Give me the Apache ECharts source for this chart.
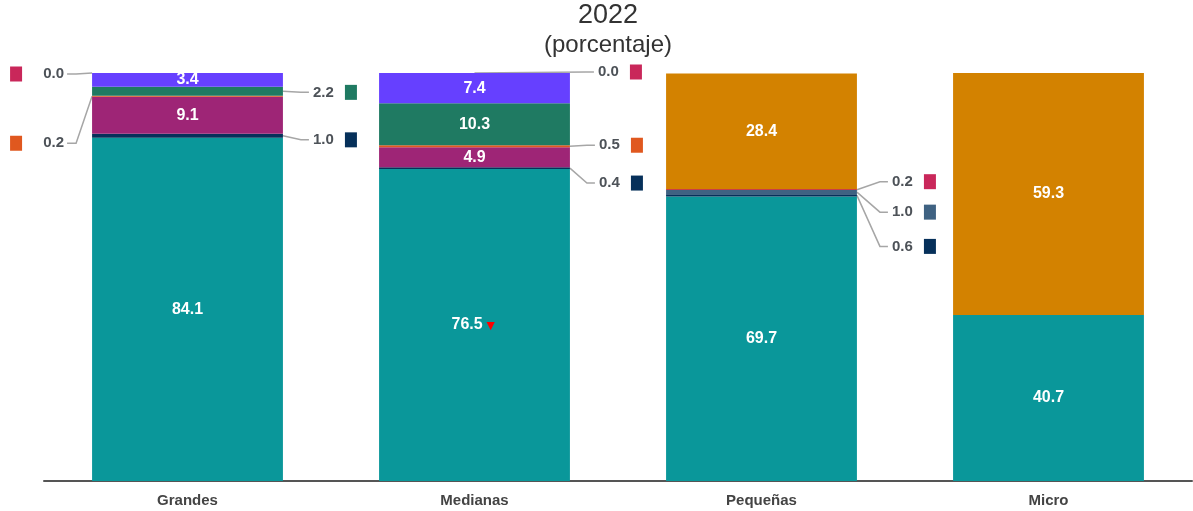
<!DOCTYPE html>
<html>
<head>
<meta charset="utf-8">
<script src="https://cdn.jsdelivr.net/npm/echarts@6/dist/echarts.min.js"></script>
<style>
  html, body { margin: 0; padding: 0; background: #fff; }
  #chart { width: 1193px; height: 511px; }
</style>
</head>
<body>
<div id="chart"></div>
<script>
// datos (porcentaje), de abajo hacia arriba en cada barra
var categories = ['Grandes', 'Medianas', 'Pequeñas', 'Micro'];
var teal      = [84.1, 76.5, 69.7, 40.7];
var navy      = [1.0, 0.4, 0.6, null];
var slate     = [null, null, 1.0, null];
var magenta   = [9.1, 4.9, null, null];
var orangeRed = [0.2, 0.5, null, null];
var green     = [2.2, 10.3, null, null];
var violet    = [3.4, 7.4, null, null];
var crimson   = [0.0, 0.0, 0.2, null];
var orange    = [null, null, 28.4, 59.3];
var downMark  = [false, true, false, false]; // triangulo rojo

var FONT = 'Liberation Sans, Arial, sans-serif';

var stackOrder = [
  { key: 'teal', data: teal, color: '#0a979a' },
  { key: 'navy', data: navy, color: '#06305a' },
  { key: 'slate', data: slate, color: '#3f6282' },
  { key: 'magenta', data: magenta, color: '#9e2576' },
  { key: 'orangeRed', data: orangeRed, color: '#e0581f' },
  { key: 'green', data: green, color: '#1f7a62' },
  { key: 'violet', data: violet, color: '#6640ff' },
  { key: 'crimson', data: crimson, color: '#c9275a' },
  { key: 'orange', data: orange, color: '#d38200' }
];

// etiquetas externas con linea guia
var callouts = [
  { key: 'crimson', cat: 0, side: 'left', dy: 1 },
  { key: 'orangeRed', cat: 0, side: 'left', dy: 47 },
  { key: 'green', cat: 0, side: 'right', dy: 1, gap: 30 },
  { key: 'navy', cat: 0, side: 'right', dy: 4, gap: 30 },
  { key: 'crimson', cat: 1, side: 'right', dy: -1, gap: 28, fromTop: true },
  { key: 'orangeRed', cat: 1, side: 'right', dy: -1, gap: 29 },
  { key: 'navy', cat: 1, side: 'right', dy: 15, gap: 29 },
  { key: 'crimson', cat: 2, side: 'right', dy: -8, gap: 35 },
  { key: 'slate', cat: 2, side: 'right', dy: 20, gap: 35 },
  { key: 'navy', cat: 2, side: 'right', dy: 51, gap: 35 }
];

// limites de cada segmento apilado
var bounds = {};
categories.forEach(function (c, i) {
  var acc = 0;
  stackOrder.forEach(function (s) {
    var v = s.data[i];
    if (v == null) return;
    bounds[s.key + '_' + i] = [acc, acc + v, v, s.color];
    acc += v;
  });
});

var BAR_RATIO = 0.665;

var series = stackOrder.map(function (s) {
  return {
    name: s.key,
    type: 'bar',
    stack: 'total',
    data: s.data,
    barWidth: '66.5%',
    barMinHeight: s.key === 'crimson' ? 1 : 0,
    itemStyle: { color: s.color },
    label: {
      show: true,
      position: 'inside',
      color: '#fff',
      fontWeight: 'bold',
      fontSize: 16,
      fontFamily: FONT,
      formatter: function (p) {
        if (p.value == null || p.value < 3) return '';
        var t = p.value.toFixed(1);
        if (s.key === 'teal' && downMark[p.dataIndex]) t += '{t|▼}';
        return t;
      },
      rich: { t: { color: '#ff0000', fontSize: 14, padding: [2, 0, 0, 1] } }
    },
    emphasis: { disabled: true },
    animation: false
  };
});

series.push({
  type: 'custom',
  silent: true,
  animation: false,
  data: callouts.map(function (c) {
    var b = bounds[c.key + '_' + c.cat];
    return [c.cat, b[0], b[1]];
  }),
  encode: { x: 0, y: [1, 2] },
  renderItem: function (params, api) {
    var c = callouts[params.dataIndex];
    var b = bounds[c.key + '_' + c.cat];
    var cat = api.value(0);
    var mid = api.coord([cat, (b[0] + b[1]) / 2]);
    var top = api.coord([cat, b[1]]);
    var half = api.size([1, 0])[0] * BAR_RATIO / 2;
    var segY = mid[1];
    var labelY = segY + c.dy;
    var pts, textX, align, sqX;
    if (c.side === 'left') {
      var barLeft = mid[0] - half;
      textX = barLeft - 28;
      align = 'right';
      pts = [[barLeft, segY], [textX + 12, labelY], [textX + 3, labelY]];
      sqX = textX - 54;
    } else {
      var barRight = mid[0] + half;
      textX = barRight + c.gap;
      align = 'left';
      var start = c.fromTop ? [mid[0], top[1]] : [barRight, segY];
      pts = [start, [textX - 12, labelY], [textX - 4, labelY]];
      sqX = textX + 32;
    }
    return {
      type: 'group',
      children: [
        { type: 'polyline', shape: { points: pts },
          style: { stroke: '#a6a6a6', lineWidth: 1.5, fill: null } },
        { type: 'text',
          style: { text: b[2].toFixed(1), x: textX, y: labelY, align: align,
                   verticalAlign: 'middle', fill: '#4d5258',
                   font: 'bold 15px ' + FONT } },
        { type: 'rect', shape: { x: sqX, y: labelY - 7.5, width: 12, height: 15 },
          style: { fill: b[3] } }
      ]
    };
  }
});

var chart = echarts.init(document.getElementById('chart'));
chart.setOption({
  backgroundColor: '#fff',
  animation: false,
  title: {
    text: '2022',
    subtext: '(porcentaje)',
    left: 603,
    top: -3,
    textAlign: 'center',
    itemGap: 4,
    textStyle: { color: '#333', fontSize: 27, fontWeight: 'normal', fontFamily: FONT },
    subtextStyle: { color: '#333', fontSize: 24, fontFamily: FONT }
  },
  grid: { left: 44, right: 1, top: 73, bottom: 30, containLabel: false },
  xAxis: {
    type: 'category',
    data: categories,
    axisTick: { show: false },
    axisLine: { lineStyle: { color: '#555', width: 2 } },
    axisLabel: { color: '#444', fontWeight: 'bold', fontSize: 15, fontFamily: FONT, margin: 12 }
  },
  yAxis: {
    type: 'value',
    min: 0,
    max: 100,
    show: false,
    splitLine: { show: false }
  },
  series: series
});
</script>
</body>
</html>
